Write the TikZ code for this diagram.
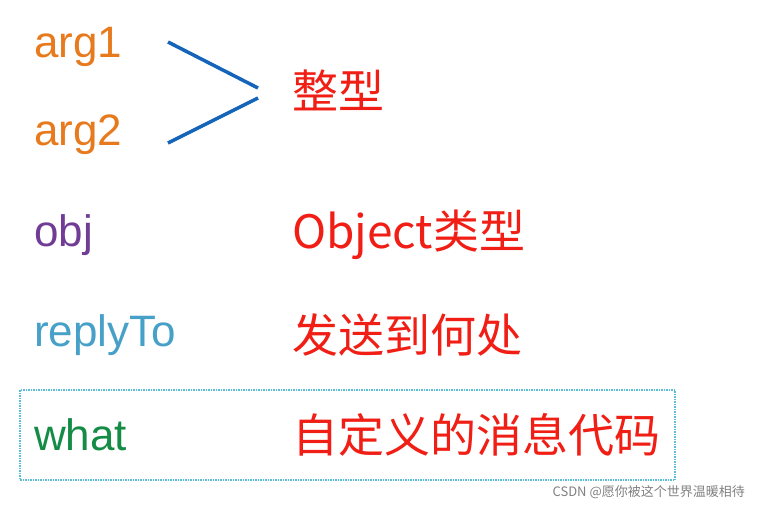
\documentclass[tikz,border=0pt]{standalone}
\usepackage{fontspec}
\setmainfont{Liberation Sans}
\newfontfamily\cjk{Noto Sans CJK SC}
\definecolor{argorange}{RGB}{232,122,30}
\definecolor{objpurple}{RGB}{112,60,150}
\definecolor{replyblue}{RGB}{70,160,200}
\definecolor{whatgreen}{RGB}{20,140,70}
\definecolor{linkblue}{RGB}{20,100,185}
\definecolor{descred}{RGB}{240,30,20}
\definecolor{boxcyan}{RGB}{90,190,215}
\tikzset{
  field/.style={anchor=west, inner sep=0pt, font=\fontsize{44}{48}\selectfont},
  desc/.style={anchor=west, inner sep=0pt, text=descred, font=\fontsize{46}{50}\selectfont\cjk}
}
\begin{document}
\begin{tikzpicture}[x=1pt,y=-1pt]
            \useasboundingbox (0,0) rectangle (758,507);

            \node[field, text=argorange] (A1) at (34,47) {arg1};
            \node[field, text=argorange] (A2) at (34,135) {arg2};
            \node[field, text=objpurple] (O) at (34,235) {obj};
            \node[field, text=replyblue] (R) at (34,335) {replyTo};
            \node[field, text=whatgreen] (W) at (34,435) {what};

            \node[desc] (T) at (292,90) {整型};
            \node[desc] (OT) at (292,235) {Object类型};
            \node[desc] (RT) at (292,335) {发送到何处};
            \node[desc] (WT) at (292,435) {自定义的消息代码};

            \coordinate (P1) at (168,42);
            \coordinate (P2) at (168,143);
            \coordinate (J1) at (258,88);
            \coordinate (J2) at (258,98);
            \draw[linkblue, line width=3.5pt] (P1) -- (J1);
            \draw[linkblue, line width=3.5pt] (P2) -- (J2);

            \draw[boxcyan, densely dotted, line width=1.5pt] (20,390) rectangle (675,480);

            \node[anchor=east, inner sep=0pt, text=gray, font=\fontsize{13}{15}\selectfont\cjk] (WM) at (745,492) {CSDN @愿你被这个世界温暖相待};
        \end{tikzpicture}
\end{document}
